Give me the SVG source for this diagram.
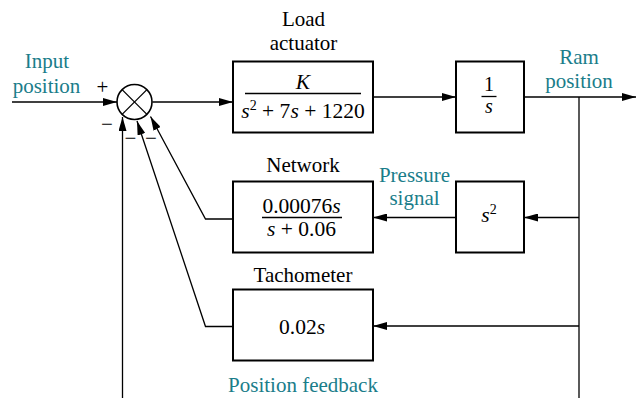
<svg xmlns="http://www.w3.org/2000/svg" width="642" height="398" viewBox="0 0 642 398">
<defs>
<style>
.box{fill:#fff;stroke:#000;stroke-width:2}
.ln{fill:none;stroke:#000;stroke-width:1.3}
.lbl{fill:#000;text-anchor:middle}
.tl{fill:#1a7d8a;text-anchor:middle}
.m{fill:#000;text-anchor:middle}
.i{font-style:italic}
</style>
<marker id="ah" markerUnits="userSpaceOnUse" markerWidth="14" markerHeight="8" refX="14" refY="4" orient="auto" viewBox="0 0 14 8">
<path d="M0,0 L14,4 L0,8 z" fill="#000"/>
</marker>
</defs>
<rect width="642" height="398" fill="#fff"/>

<g id="connectors">
<line class="ln" x1="12" y1="102" x2="117" y2="102" marker-end="url(#ah)"/>
<line class="ln" x1="152.5" y1="102" x2="233" y2="102" marker-end="url(#ah)"/>
<line class="ln" x1="373" y1="97" x2="456" y2="97" marker-end="url(#ah)"/>
<line class="ln" x1="524" y1="97" x2="636" y2="97" marker-end="url(#ah)"/>
<line class="ln" x1="579" y1="97" x2="579" y2="398"/>
<line class="ln" x1="579" y1="217.5" x2="524" y2="217.5" marker-end="url(#ah)"/>
<line class="ln" x1="456" y1="217.5" x2="373" y2="217.5" marker-end="url(#ah)"/>
<line class="ln" x1="579" y1="326" x2="373" y2="326" marker-end="url(#ah)"/>
<polyline class="ln" points="233,219 205.5,219 150.5,116.5" marker-end="url(#ah)"/>
<polyline class="ln" points="233,326.5 205.5,326.5 137,121" marker-end="url(#ah)"/>
<line class="ln" x1="122.5" y1="398" x2="122.5" y2="117" stroke-width="1.6" marker-end="url(#ah)"/>
</g>

<g font-family="Liberation Serif, Times New Roman, serif" font-size="21">
<g id="sum">
<circle cx="134.5" cy="102" r="17.5" fill="#fff" stroke="#000" stroke-width="1.6"/>
<line class="ln" x1="122.1" y1="89.6" x2="146.9" y2="114.4"/>
<line class="ln" x1="146.9" y1="89.6" x2="122.1" y2="114.4"/>
<text class="lbl" x="102.5" y="94">+</text>
<text class="lbl" x="107" y="131">−</text>
<text class="lbl" x="130.5" y="145">−</text>
<text class="lbl" x="151" y="145">−</text>
</g>

<g id="input-label">
<text class="tl" x="47" y="68">Input</text>
<text class="tl" x="46.5" y="92.5">position</text>
</g>

<g id="load-actuator">
<text class="lbl" x="303.5" y="26">Load</text>
<text class="lbl" x="303.5" y="50">actuator</text>
<rect class="box" x="233" y="61.5" width="140" height="71"/>
<text class="m" x="303" y="88.5" font-size="21.5"><tspan class="i">K</tspan></text>
<line x1="245" y1="93.5" x2="361" y2="93.5" stroke="#000" stroke-width="1.3"/>
<text class="m" x="303" y="118" font-size="21.5"><tspan class="i">s</tspan><tspan font-size="14" dy="-8">2</tspan><tspan dy="8"> + 7</tspan><tspan class="i">s</tspan> + 1220</text>
</g>

<g id="integrator">
<rect class="box" x="456" y="61.5" width="68" height="71"/>
<text class="m" x="489" y="90.5" font-size="20">1</text>
<line x1="481.5" y1="96.5" x2="496.5" y2="96.5" stroke="#000" stroke-width="1.3"/>
<text class="m" x="489" y="113" font-size="20"><tspan class="i">s</tspan></text>
</g>

<g id="ram-label">
<text class="tl" x="579" y="64">Ram</text>
<text class="tl" x="579" y="88">position</text>
</g>

<g id="network">
<text class="lbl" x="303" y="171.5">Network</text>
<rect class="box" x="233" y="181.5" width="140" height="71"/>
<text class="m" x="301.5" y="212.5" font-size="21.5">0.00076<tspan class="i">s</tspan></text>
<line x1="262" y1="217.5" x2="342" y2="217.5" stroke="#000" stroke-width="1.3"/>
<text class="m" x="301.5" y="235.5" font-size="21.5"><tspan class="i">s</tspan> + 0.06</text>
</g>

<g id="pressure-label">
<text class="tl" x="414.5" y="181.5">Pressure</text>
<text class="tl" x="414.5" y="205">signal</text>
</g>

<g id="s2">
<rect class="box" x="456" y="181.5" width="68" height="71"/>
<text class="m" x="489" y="222" font-size="21.5"><tspan class="i">s</tspan><tspan font-size="14" dy="-8">2</tspan></text>
</g>

<g id="tachometer">
<text class="lbl" x="303" y="281.5">Tachometer</text>
<rect class="box" x="233" y="289.5" width="140" height="71"/>
<text class="m" x="302" y="333.5" font-size="21.5">0.02<tspan class="i">s</tspan></text>
</g>

<g id="feedback-label">
<text class="tl" x="303" y="391.5">Position feedback</text>
</g>
</g>
</svg>
